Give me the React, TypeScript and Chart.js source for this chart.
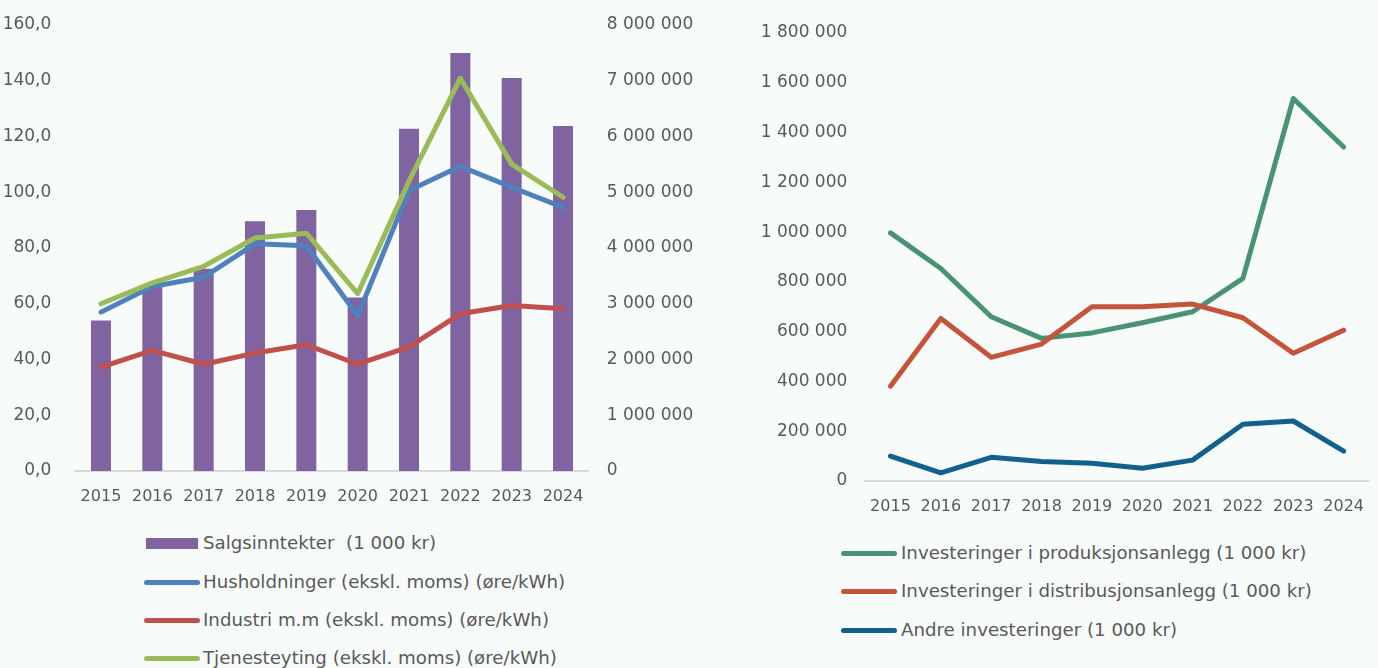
import React, { useEffect, useRef } from "react";
import { Chart, registerables } from "chart.js";

Chart.register(...registerables);

const years = ["2015", "2016", "2017", "2018", "2019", "2020", "2021", "2022", "2023", "2024"];

// Left chart
const salgsinntekter = [2700000, 3320000, 3630000, 4480000, 4680000, 3110000, 6140000, 7500000, 7050000, 6190000];
const husholdninger = [57.0, 66.2, 69.5, 81.5, 80.8, 55.8, 100.6, 109.3, 101.8, 94.6];
const industri = [37.3, 43.3, 38.3, 42.3, 45.3, 38.3, 44.5, 56.4, 59.4, 58.2];
const tjenesteyting = [60.0, 67.5, 73.4, 83.6, 85.3, 63.6, 104.0, 140.9, 110.1, 98.2];

// Right chart
const produksjon = [997000, 854000, 660000, 573000, 595000, 636000, 680000, 814000, 1537000, 1342000];
const distribusjon = [381000, 653000, 497000, 550000, 700000, 700000, 711000, 656000, 513000, 606000];
const andre = [100000, 33000, 95000, 78000, 71000, 51000, 84000, 228000, 241000, 120000];

const leftLabels = [
  "Salgsinntekter  (1 000 kr)",
  "Husholdninger (ekskl. moms) (øre/kWh)",
  "Industri m.m (ekskl. moms) (øre/kWh)",
  "Tjenesteyting (ekskl. moms) (øre/kWh)",
];
const rightLabels = [
  "Investeringer i produksjonsanlegg (1 000 kr)",
  "Investeringer i distribusjonsanlegg (1 000 kr)",
  "Andre investeringer (1 000 kr)",
];

const FONT = "'DejaVu Sans', sans-serif";
const TEXT = "#595959";
const BG = "#f7fbfa";
const C_PURPLE = "#8064a2";
const C_BLUE = "#4f81bd";
const C_RED = "#c0504d";
const C_GREEN = "#9bbb59";
const C2_GREEN = "#4a9372";
const C2_RED = "#c4543a";
const C2_BLUE = "#135f8e";

const fmtThousands = (v: number) =>
  Math.round(v).toString().replace(/\B(?=(\d{3})+(?!\d))/g, " ");
const fmtDec = (v: number) => v.toFixed(1).replace(".", ",");

const lineDs = (label: string, data: number[], color: string, order: number, yAxisID?: string) => ({
  type: "line" as const,
  label,
  data,
  borderColor: color,
  backgroundColor: color,
  borderWidth: 5,
  pointRadius: 0,
  tension: 0,
  borderCapStyle: "round" as const,
  borderJoinStyle: "round" as const,
  order,
  ...(yAxisID ? { yAxisID } : {}),
});

const fixV = (w: number) => (s: any) => {
  s.width = w;
  s.paddingTop = 8;
  s.paddingBottom = 8;
};

function LeftChart() {
  const ref = useRef<HTMLCanvasElement>(null);
  useEffect(() => {
    if (!ref.current) return;
    const chart = new Chart(ref.current, {
      type: "bar",
      data: {
        labels: years,
        datasets: [
          {
            type: "bar",
            label: leftLabels[0],
            data: salgsinntekter,
            backgroundColor: C_PURPLE,
            yAxisID: "y1",
            barPercentage: 0.39,
            categoryPercentage: 1,
            order: 4,
          } as any,
          lineDs(leftLabels[1], husholdninger, C_BLUE, 3, "y"),
          lineDs(leftLabels[2], industri, C_RED, 2, "y"),
          lineDs(leftLabels[3], tjenesteyting, C_GREEN, 1, "y"),
        ],
      },
      options: {
        animation: false,
        responsive: false,
        maintainAspectRatio: false,
        layout: { padding: { top: 25, left: 0, right: 0, bottom: 4 } },
        plugins: { legend: { display: false }, tooltip: { enabled: false } },
        scales: {
          x: {
            offset: true,
            grid: { display: false, drawTicks: false },
            border: { display: true, color: "#d9d9d9", width: 2 },
            ticks: { color: TEXT, font: { family: FONT, size: 16 }, padding: 16, maxRotation: 0 },
            afterFit: (s: any) => { s.height = 35; },
          },
          y: {
            position: "left",
            min: 0,
            max: 160,
            grid: { display: false, drawTicks: false },
            border: { display: false },
            ticks: {
              stepSize: 20,
              color: TEXT,
              font: { family: FONT, size: 17 },
              padding: 24,
              callback: (v: any) => fmtDec(Number(v)),
            },
            afterFit: fixV(75.3),
          },
          y1: {
            position: "right",
            min: 0,
            max: 8000000,
            grid: { display: false, drawTicks: false },
            border: { display: false },
            ticks: {
              stepSize: 1000000,
              color: TEXT,
              font: { family: FONT, size: 17 },
              padding: 18,
              callback: (v: any) => fmtThousands(Number(v)),
            },
            afterFit: fixV(116.3),
          },
        },
      } as any,
    });
    return () => chart.destroy();
  }, []);
  return (
    <div style={{ position: "absolute", left: 0, top: 0, width: 705, height: 510 }}>
      <canvas ref={ref} width={705} height={510} style={{ width: 705, height: 510 }} />
    </div>
  );
}

function RightChart() {
  const ref = useRef<HTMLCanvasElement>(null);
  useEffect(() => {
    if (!ref.current) return;
    const chart = new Chart(ref.current, {
      type: "line",
      data: {
        labels: years,
        datasets: [
          lineDs(rightLabels[0], produksjon, C2_GREEN, 3),
          lineDs(rightLabels[1], distribusjon, C2_RED, 2),
          lineDs(rightLabels[2], andre, C2_BLUE, 1),
        ],
      },
      options: {
        animation: false,
        responsive: false,
        maintainAspectRatio: false,
        layout: { padding: { top: 33, left: 0, right: 0, bottom: 4 } },
        plugins: { legend: { display: false }, tooltip: { enabled: false } },
        scales: {
          x: {
            offset: true,
            grid: { display: false, drawTicks: false },
            border: { display: true, color: "#d9d9d9", width: 2 },
            ticks: { color: TEXT, font: { family: FONT, size: 16 }, padding: 16, maxRotation: 0 },
            afterFit: (s: any) => { s.height = 35; },
          },
          y: {
            min: 0,
            max: 1800000,
            grid: { display: false, drawTicks: false },
            border: { display: false },
            ticks: {
              stepSize: 200000,
              color: TEXT,
              font: { family: FONT, size: 17 },
              padding: 18,
              callback: (v: any) => fmtThousands(Number(v)),
            },
            afterFit: fixV(125.3),
          },
        },
      } as any,
    });
    return () => chart.destroy();
  }, []);
  return (
    <div style={{ position: "absolute", left: 740, top: 0, width: 640, height: 520 }}>
      <canvas ref={ref} width={640} height={520} style={{ width: 640, height: 520 }} />
    </div>
  );
}

type LegendItem = { label: string; color: string; kind: "bar" | "line"; cy: number };

function Legend({ items, markerX, markerW, textX }: { items: LegendItem[]; markerX: number; markerW: number; textX: number }) {
  return (
    <>
      {items.map((it, i) => (
        <React.Fragment key={i}>
          {it.kind === "bar" ? (
            <div
              style={{
                position: "absolute",
                left: markerX + 2,
                top: it.cy - 5.5,
                width: markerW - 4,
                height: 11,
                background: it.color,
              }}
            />
          ) : (
            <div
              style={{
                position: "absolute",
                left: markerX,
                top: it.cy - 2.5,
                width: markerW,
                height: 5,
                borderRadius: 3,
                background: it.color,
              }}
            />
          )}
          <div
            style={{
              position: "absolute",
              left: textX,
              top: it.cy - 11,
              height: 22,
              lineHeight: "22px",
              fontFamily: FONT,
              fontSize: 18.2,
              color: TEXT,
              whiteSpace: "pre",
            }}
          >
            {it.label}
          </div>
        </React.Fragment>
      ))}
    </>
  );
}

export default function App() {
  const leftItems: LegendItem[] = [
    { label: leftLabels[0], color: C_PURPLE, kind: "bar", cy: 543 },
    { label: leftLabels[1], color: C_BLUE, kind: "line", cy: 582 },
    { label: leftLabels[2], color: C_RED, kind: "line", cy: 620 },
    { label: leftLabels[3], color: C_GREEN, kind: "line", cy: 658 },
  ];
  const rightItems: LegendItem[] = [
    { label: rightLabels[0], color: C2_GREEN, kind: "line", cy: 553 },
    { label: rightLabels[1], color: C2_RED, kind: "line", cy: 591 },
    { label: rightLabels[2], color: C2_BLUE, kind: "line", cy: 630 },
  ];
  return (
    <div style={{ position: "fixed", left: 0, top: 0, width: 1378, height: 668, background: BG, overflow: "hidden" }}>
      <LeftChart />
      <RightChart />
      <Legend items={leftItems} markerX={144} markerW={56} textX={203} />
      <Legend items={rightItems} markerX={841} markerW={56} textX={901} />
    </div>
  );
}
